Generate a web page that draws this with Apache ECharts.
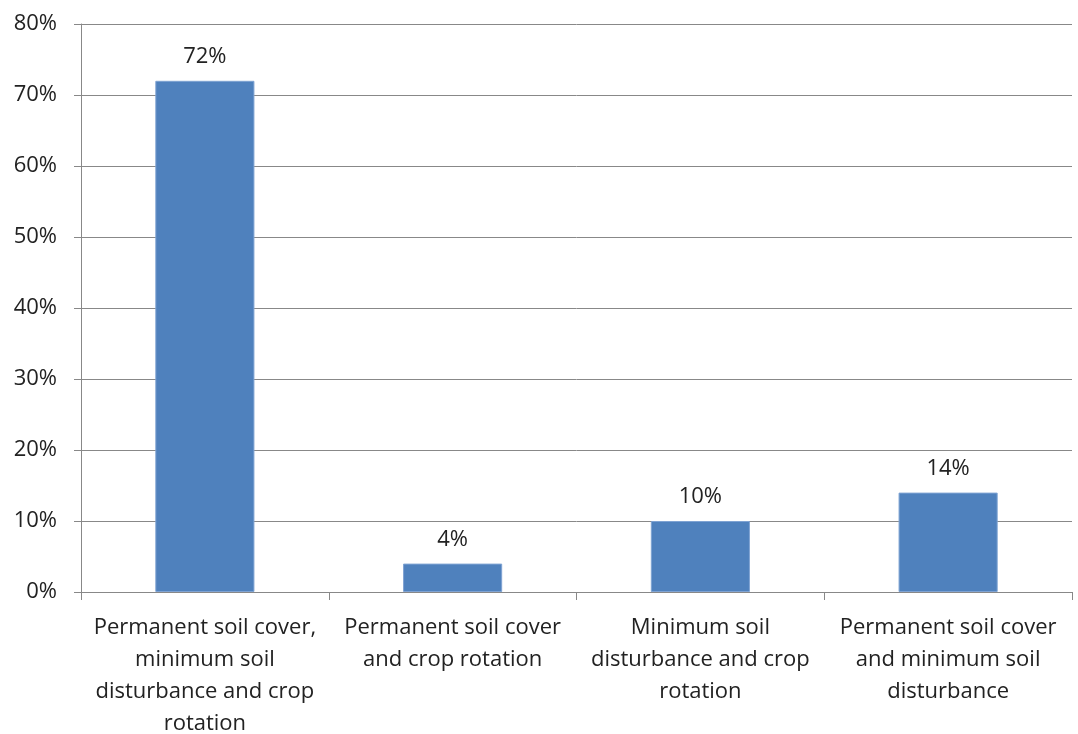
<!DOCTYPE html>
<html>
<head>
<meta charset="utf-8">
<script src="https://cdn.jsdelivr.net/npm/echarts@6/dist/echarts.min.js"></script>
<style>
  html, body { margin: 0; padding: 0; background: #fff; }
  #chart { width: 1078px; height: 734px; }
</style>
</head>
<body>
<div id="chart"></div>
<script>
// categories (line breaks as in the picture)
var categories = [
  'Permanent soil cover,\nminimum soil\ndisturbance and crop\nrotation',
  'Permanent soil cover\nand crop rotation',
  'Minimum soil\ndisturbance and crop\nrotation',
  'Permanent soil cover\nand minimum soil\ndisturbance'
]
var shares = [72, 4, 10, 14]
var yMin = 0
var yMax = 80
var yStep = 10

var chart = echarts.init(document.getElementById('chart'))
chart.setOption({
  animation: false,
  textStyle: { fontFamily: '"Open Sans", sans-serif' },
  grid: {
    left: 81,
    right: 6,
    top: 24,
    bottom: 142,
    outerBoundsMode: 'none',
    containLabel: false
  },
  xAxis: {
    type: 'category',
    data: categories,
    axisLine: { lineStyle: { color: '#888', width: 1 } },
    axisTick: { show: true, length: 8, lineStyle: { color: '#888' } },
    axisLabel: {
      color: '#222',
      fontSize: 22,
      lineHeight: 32,
      margin: 20,
      interval: 0
    }
  },
  yAxis: {
    type: 'value',
    min: yMin,
    max: yMax,
    interval: yStep,
    axisLine: { show: true, lineStyle: { color: '#888', width: 1 } },
    axisTick: { show: true, length: 7, lineStyle: { color: '#888' } },
    axisLabel: {
      color: '#222',
      fontSize: 22,
      margin: 24,
      formatter: '{value}%'
    },
    splitLine: { lineStyle: { color: '#888', width: 1 } }
  },
  series: [{
    type: 'bar',
    data: shares,
    barWidth: '40%',
    itemStyle: {
      color: '#4F81BD',
      borderColor: '#7FA3D3',
      borderWidth: 1
    },
    label: {
      show: true,
      position: 'top',
      distance: 13,
      color: '#222',
      fontSize: 22,
      formatter: '{c}%'
    }
  }]
})
</script>
</body>
</html>
